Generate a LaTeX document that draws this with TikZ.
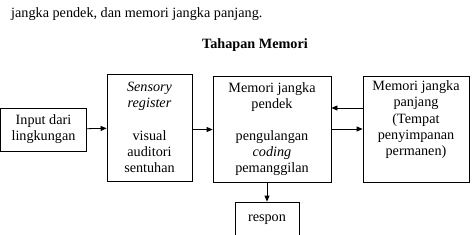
\documentclass[tikz,border=0pt]{standalone}
\usepackage{fontspec}
\setmainfont{Liberation Serif}
\usetikzlibrary{positioning,arrows.meta}

\begin{document}
\begin{tikzpicture}[x=1pt,y=-1pt,font=\fontsize{14.2}{16.2}\selectfont,>={Triangle[length=6pt,width=5pt]},
  box/.style ={draw,line width=0.8pt,align=center,inner sep=0pt},
  txt/.style ={align=center,inner sep=0pt},
  flow/.style={->,line width=0.8pt}]
\useasboundingbox (0,0) rectangle (474,234);
\clip (0,0) rectangle (474,234);
\node[anchor=base west,inner sep=0pt] (intro) at (11,17) {jangka pendek, dan memori jangka panjang.};
\node[anchor=base,inner sep=0pt] (judul) at (255,48) {\textbf{Tahapan Memori}};
\node[box,minimum width=86,minimum height=43]  (inp) at (43.5,129.5) {Input dari\\lingkungan};
\node[box,minimum width=85,minimum height=107] (sr)  at (149.5,127.5) {\textit{Sensory}\\\textit{register}\\[16pt]visual\\auditori\\sentuhan};
\node[box,minimum width=118,minimum height=106] (pd) at (272,129) {Memori jangka\\pendek\\[16pt]pengulangan\\\textit{coding}\\pemanggilan};
\node[box,minimum width=106,minimum height=106] (pj) at (416,129) {};
\node[txt,anchor=north] (pjtxt) at ([yshift=-5pt]pj.north) {Memori jangka\\panjang\\(Tempat\\penyimpanan\\permanen)};
\node[box,minimum width=64,minimum height=36] (rs) at (267,220) {respon};
\draw[flow] (inp) -- (sr);
\draw[flow] (sr.east |- inp.east) -- (pd.west |- inp.east);
\draw[flow] ([yshift=21pt]pj.west) -- ([yshift=21pt]pd.east);
\draw[flow] (pd.east) -- (pj.west);
\draw[flow] (rs.north |- pd.south) -- (rs.north);
\end{tikzpicture}
\end{document}
